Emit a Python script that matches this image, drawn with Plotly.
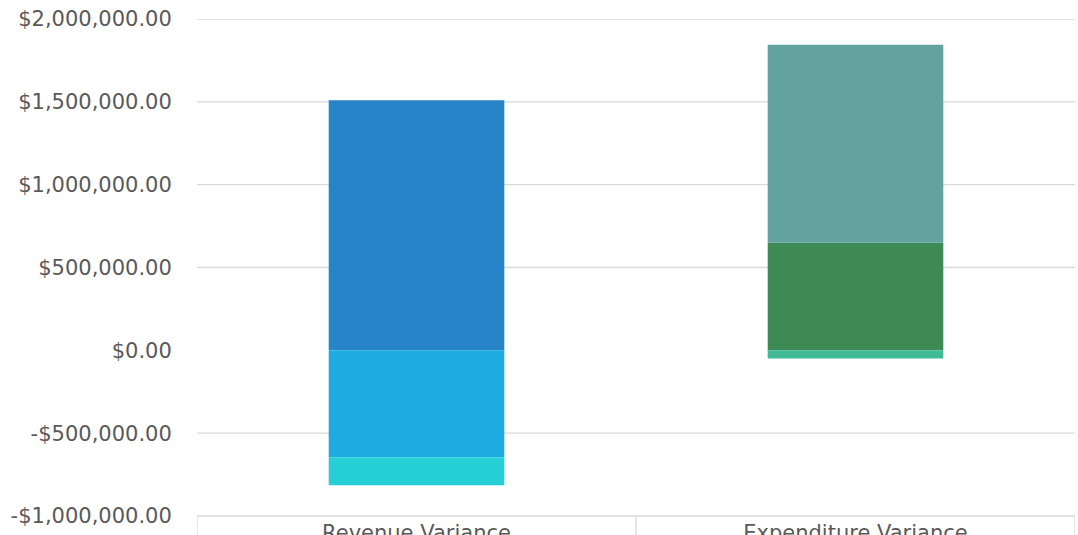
import plotly.graph_objects as go

# Variance categories and stacked components
categories = ["Revenue Variance", "Expenditure Variance"]
component_1 = [1510000, 650000]
component_2 = [-645000, 1195000]
component_3 = [-170000, -50000]

# Per-bar colours for each component
colors_1 = ["#2884C8", "#3D8A55"]
colors_2 = ["#1EABE2", "#62A39D"]
colors_3 = ["#26CED6", "#40BB95"]

# Value axis ticks (the zero line carries no gridline)
tick_values = [-1000000, -500000, 0, 500000, 1000000, 1500000, 2000000]
grid_values = [-500000, 500000, 1000000, 1500000, 2000000]

FONT = "DejaVu Sans"
TEXT = "#595959"
GRID = "#D9D9D9"

fig = go.Figure()
for vals, cols in [(component_1, colors_1), (component_2, colors_2), (component_3, colors_3)]:
    fig.add_trace(go.Bar(
        x=categories, y=vals,
        marker=dict(color=cols, line=dict(width=0)),
        width=0.4, showlegend=False,
    ))

# horizontal gridlines
for g in grid_values:
    fig.add_shape(type="line", xref="paper", yref="y", x0=0, x1=1, y0=g, y1=g,
                  line=dict(color=GRID, width=1.3), layer="below")

# category box under the plot
for b in [-0.5, 0.5, 1.5]:
    fig.add_shape(type="line", xref="x", yref="paper", x0=b, x1=b, y0=-0.2, y1=0,
                  line=dict(color=GRID, width=1.3))
fig.add_shape(type="line", xref="paper", yref="paper", x0=0, x1=1, y0=0, y1=0,
              line=dict(color=GRID, width=1.3))

tick_text = [("-" if v < 0 else "") + "${:,.2f}".format(abs(v)) for v in tick_values]

fig.update_layout(
    width=1078, height=535,
    margin=dict(l=197, r=3, t=19, b=19, autoexpand=False),
    paper_bgcolor="white", plot_bgcolor="white",
    barmode="relative",
    bargap=0.6,
    font=dict(family=FONT, size=21, color=TEXT),
    xaxis=dict(
        type="category", range=[-0.5, 1.5], automargin=False,
        showgrid=False, zeroline=False, showline=False,
        ticks="", tickfont=dict(size=21, color=TEXT, family=FONT),
        ticklabelstandoff=2,
    ),
    yaxis=dict(
        range=[-1000000, 2000000], automargin=False,
        tickvals=tick_values, ticktext=tick_text,
        showgrid=False, zeroline=False, showline=False,
        ticks="outside", ticklen=20, tickcolor="rgba(0,0,0,0)",
        tickfont=dict(size=21, color=TEXT, family=FONT),
    ),
)

fig.write_html("out.html")
